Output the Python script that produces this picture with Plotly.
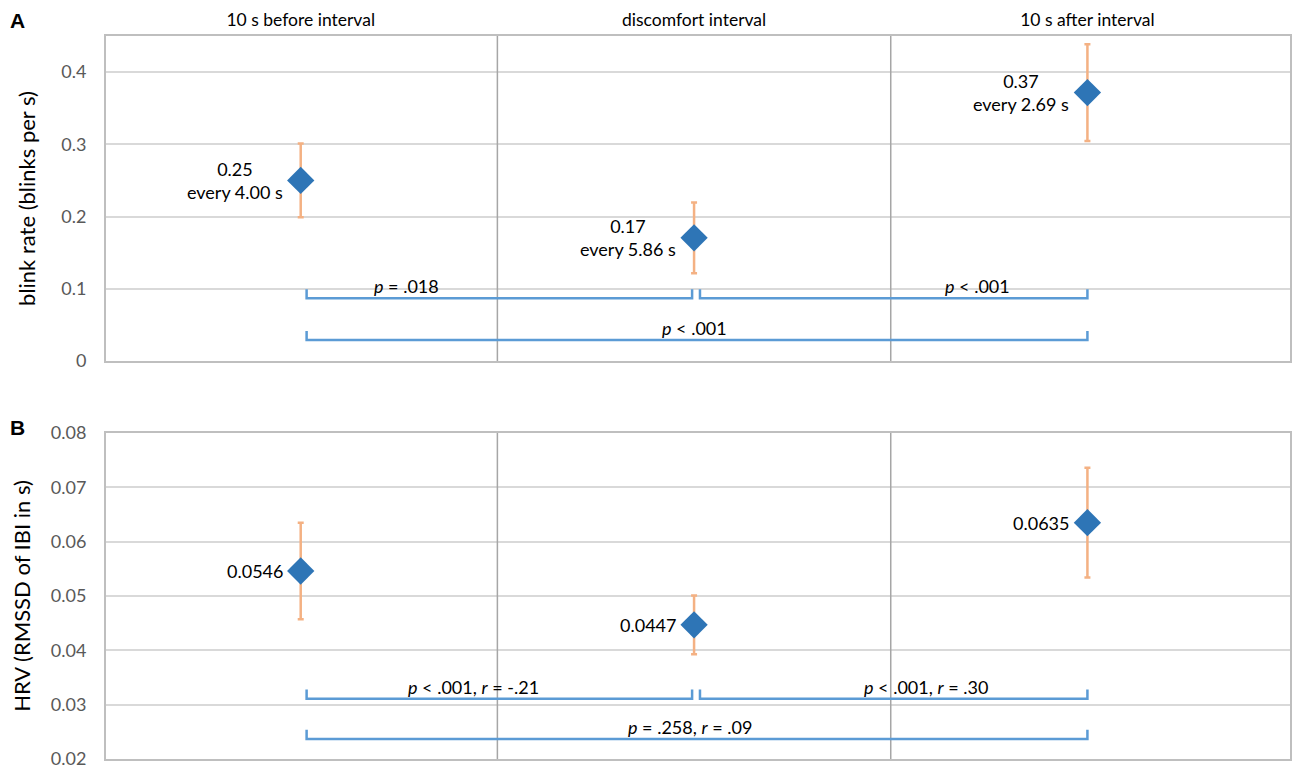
import plotly.graph_objects as go

# categories (columns of both panels)
categories = ["10 s before interval", "discomfort interval", "10 s after interval"]

# panel A: blink rate
blink_rate = [0.25, 0.1706, 0.3717]
blink_err = [0.051, 0.049, 0.067]
blink_labels = ["0.25<br>every 4.00 s", "0.17<br>every 5.86 s", "0.37<br>every 2.69 s"]

# panel B: HRV
hrv = [0.0546, 0.0447, 0.0635]
hrv_err = [0.0089, 0.0054, 0.0101]
hrv_labels = ["0.0546", "0.0447", "0.0635"]

# significance brackets: from category, to category, level, label
brk_a_from = [0, 1, 0]
brk_a_to = [1, 2, 2]
brk_a_level = [0.087, 0.087, 0.029]
brk_a_text = ["<i>p</i> = .018", "<i>p</i> < .001", "<i>p</i> < .001"]
brk_a_text_x = [0.27, 1.72, 1.0]

brk_b_from = [0, 1, 0]
brk_b_to = [1, 2, 2]
brk_b_level = [0.0311, 0.0311, 0.0237]
brk_b_text = ["<i>p</i> < .001, <i>r</i> = -.21", "<i>p</i> < .001, <i>r</i> = .30",
              "<i>p</i> = .258, <i>r</i> = .09"]
brk_b_text_x = [0.44, 1.59, 0.99]

FONT = "Lato"
BLUE = "#2E75B6"
ORANGE = "#F4B183"
BRACKET = "#5B9BD5"
xpos = list(range(len(categories)))
xrange_ = [-0.495, 2.515]

fig = go.Figure()

for vals, errs, ax in [(blink_rate, blink_err, "y"), (hrv, hrv_err, "y2")]:
    fig.add_trace(go.Scatter(
        x=xpos, y=vals, mode="markers",
        xaxis="x" if ax == "y" else "x2", yaxis=ax,
        marker=dict(symbol="diamond", size=21, color=BLUE),
        error_y=dict(type="data", array=errs, color=ORANGE, thickness=2.5, width=3),
        showlegend=False, hoverinfo="skip",
    ))

shapes = []
annotations = []

# dividers between columns
for xr, yr in [("x", "y domain"), ("x2", "y2 domain")]:
    for i in range(len(categories) - 1):
        shapes.append(dict(type="line", xref=xr, yref=yr, x0=i + 0.5, x1=i + 0.5, y0=0, y1=1,
                           line=dict(color="#A6A6A6", width=1.5), layer="above"))

# value labels
for vals, labs, xr, yr in [(blink_rate, blink_labels, "x", "y"), (hrv, hrv_labels, "x2", "y2")]:
    for i, (v, t) in enumerate(zip(vals, labs)):
        annotations.append(dict(x=i, y=v, xref=xr, yref=yr, text=t, showarrow=False,
                                xanchor="right", yanchor="middle", align="center", xshift=-16,
                                font=dict(family=FONT, size=18, color="black")))

# brackets
for frm, to, lev, txt, tx, xr, yr, tick in [
    (brk_a_from, brk_a_to, brk_a_level, brk_a_text, brk_a_text_x, "x", "y", 0.0125),
    (brk_b_from, brk_b_to, brk_b_level, brk_b_text, brk_b_text_x, "x2", "y2", 0.0017),
]:
    for f, t, lv, s, sx in zip(frm, to, lev, txt, tx):
        x0 = f + 0.015
        x1 = t - 0.005 if t < len(categories) - 1 else t
        shapes.append(dict(type="path", xref=xr, yref=yr,
                           path=f"M {x0},{lv + tick} L {x0},{lv} L {x1},{lv} L {x1},{lv + tick}",
                           line=dict(color=BRACKET, width=2.5)))
        annotations.append(dict(x=sx, y=lv, xref=xr, yref=yr, text=s, showarrow=False,
                                xanchor="center", yanchor="middle", yshift=12,
                                font=dict(family=FONT, size=18, color="black")))

# panel letters
annotations.append(dict(x=-0.075, y=1.022, xref="paper", yref="paper", text="<b>A</b>",
                        xanchor="center", yanchor="middle", showarrow=False,
                        font=dict(family="Liberation Sans", size=21, color="black")))
annotations.append(dict(x=-0.075, y=0.459, xref="paper", yref="paper", text="<b>B</b>",
                        xanchor="center", yanchor="middle", showarrow=False,
                        font=dict(family="Liberation Sans", size=21, color="black")))

frame = dict(showline=True, linecolor="#BFBFBF", linewidth=2, mirror=True, automargin=False)
ytick_font = dict(family=FONT, size=18, color="#595959")

fig.update_layout(
    width=1284, height=762,
    margin=dict(l=98, r=2, t=28, b=11),
    plot_bgcolor="white", paper_bgcolor="white",
    font=dict(family=FONT),
    shapes=shapes, annotations=annotations,
    xaxis=dict(domain=[0, 1], anchor="y", side="top", range=xrange_,
               tickvals=xpos, ticktext=categories, showgrid=False, zeroline=False,
               ticks="", ticklabelstandoff=1, ticklabeloverflow="allow",
               tickfont=dict(family=FONT, size=17.5, color="black"), **frame),
    yaxis=dict(domain=[0.5505, 1], anchor="x", range=[0, 0.45], dtick=0.1,
               gridcolor="#D9D9D9", gridwidth=1.5, zeroline=False, ticks="",
               ticklabelstandoff=14, tickfont=ytick_font,
               title=dict(text="blink rate (blinks per s)", standoff=20,
                          font=dict(family=FONT, size=22, color="black")), **frame),
    xaxis2=dict(domain=[0, 1], anchor="y2", range=xrange_, showticklabels=False,
                showgrid=False, zeroline=False, ticks="", **frame),
    yaxis2=dict(domain=[0, 0.4509], anchor="x2", range=[0.02, 0.08], dtick=0.01,
                gridcolor="#D9D9D9", gridwidth=1.5, zeroline=False, ticks="",
                ticklabelstandoff=14, ticklabeloverflow="allow", tickfont=ytick_font,
                title=dict(text="HRV (RMSSD of IBI in s)", standoff=20,
                           font=dict(family=FONT, size=22, color="black")), **frame),
)

fig.write_html("out.html")
